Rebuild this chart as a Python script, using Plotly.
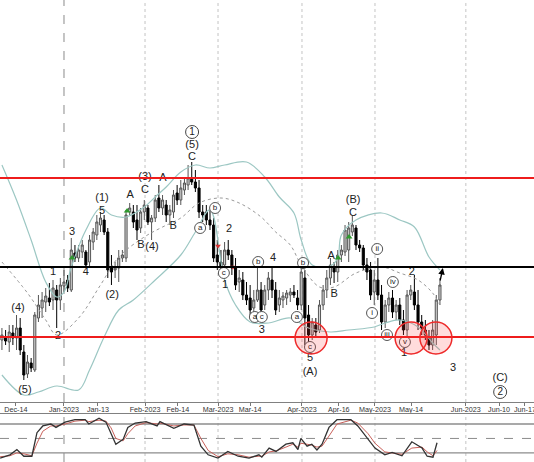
import plotly.graph_objects as go

# ---------------- data ----------------
bars = list(range(-17, 104))
opens = [62,65,60,69,64,74,50,28,39,32,84,94,100,104,102,112,102,116,122,112,149,144,150,150,140,160,167,177,182,170,134,132,134,144,144,190,190,182,174,190,194,180,184,204,194,197,187,190,209,202,212,217,224,220,214,190,190,182,177,147,140,137,152,147,134,120,122,107,104,94,102,112,97,112,122,112,97,102,104,107,110,104,97,124,87,67,77,72,97,112,124,134,130,147,150,152,170,174,157,154,137,132,110,122,107,80,97,104,90,97,82,72,107,110,97,80,72,64,57,67,102]
highs = [74,72,77,77,87,84,57,47,44,90,107,110,114,119,122,117,124,132,127,164,157,157,162,152,167,174,187,190,187,174,147,140,152,152,192,199,197,197,194,202,197,187,207,217,207,202,197,212,217,222,224,237,240,232,222,197,197,192,184,162,152,160,162,152,144,132,130,120,117,112,140,120,117,130,134,120,112,110,112,114,117,112,134,132,97,84,84,102,117,132,144,140,152,157,177,180,187,177,162,157,144,140,132,144,117,102,110,112,102,104,92,112,117,127,112,87,82,72,82,107,124]
lows = [52,57,50,57,52,47,22,24,30,30,80,84,90,96,92,74,92,110,110,110,140,140,144,134,136,152,162,170,167,124,117,124,120,140,140,187,174,162,169,182,177,162,180,190,187,180,177,184,197,197,207,212,217,210,184,180,177,172,140,132,130,134,142,127,112,110,102,97,87,90,100,90,92,102,104,87,90,94,97,100,104,92,92,57,57,62,64,69,92,104,117,119,120,140,146,140,166,152,150,132,122,102,97,102,72,74,90,84,82,77,67,62,102,92,72,67,62,52,52,57,97]
closes = [67,61,70,64,74,52,27,40,34,87,97,102,106,100,114,102,117,120,114,152,144,152,157,137,162,170,180,184,170,132,130,134,144,147,187,194,180,172,190,197,180,184,202,194,202,187,192,207,202,214,219,224,220,214,190,187,182,177,144,140,134,152,147,134,117,124,107,102,92,102,112,92,112,124,112,92,104,106,109,110,107,97,130,84,67,80,70,97,112,124,137,130,147,152,172,174,177,157,154,137,130,107,122,107,80,97,104,90,97,82,72,107,112,97,80,74,67,57,72,102,117]

levels_red = [224, 65]
level_black = [135]

tick_bars = [-13.2, 0, 9.3, 22.2, 31.2, 42.2, 51.0, 65.2, 75.3, 85.2, 95.1, 110.1, 119.2, 126.3]
tick_labels = ["Dec-14", "Jan-2023", "Jan-13", "Feb-2023", "Feb-14", "Mar-2023", "Mar-14",
               "Apr-2023", "Apr-16", "May-2023", "May-14", "Jun-2023", "Jun-10", "Jun-17"]
month_bars = [0, 22.2, 42.2, 65.2, 85.2, 110.1]

upper_bar = [-17, -13, -9, -5, -2, 0, 2, 6, 10, 13, 17, 22, 25, 28, 32, 36, 40, 44, 50, 55, 59, 63, 65, 68, 73, 75, 76, 80, 87, 92, 96, 100, 103]
upper_val = [237, 202, 162, 120, 105, 110, 135, 172, 194, 187, 185, 195, 205, 215, 230, 237, 234, 237, 240, 225, 205, 189, 162, 137, 136, 144, 167, 182, 189, 182, 175, 145, 132]
mid_bar = [-17, -10, -5, -2, 4, 10, 15, 22, 27, 32, 37, 43, 48, 54, 58, 62, 65, 70, 74, 80, 87, 92, 97, 101, 103]
mid_val = [140, 109, 82, 67, 84, 117, 145, 165, 175, 184, 199, 204, 199, 185, 170, 157, 137, 115, 115, 129, 135, 129, 122, 109, 97]
lower_bar = [-17, -11, -7, -2, 4, 7, 11, 15, 19, 25, 32, 36, 40, 44, 47, 51, 56, 62, 67, 73, 78, 85, 88, 92, 97, 101, 103]
lower_val = [27, 7, 10, 16, 12, 32, 65, 92, 102, 122, 147, 170, 192, 122, 97, 80, 79, 84, 74, 70, 72, 75, 79, 82, 75, 59, 52]

stoch_bar = [-17.5, -14.8, -12.9, -11.0, -8.8, -7.4, -5.8, -3.6, -2.2, 0.3, 3.0, 5.8, 6.8, 9.6, 11.5,
             12.9, 14.2, 16.2, 17.5, 19.5, 22.5, 25.5, 26.3, 30.1, 32.9, 35.6, 37.5, 39.5, 42.2, 44.9,
             47.7, 50.7, 53.4, 54.2, 56.2, 58.1, 60.8, 62.7, 64.1, 64.9, 66.6, 67.9, 69.3, 70.7, 72.6,
             74.8, 78.6, 80.5, 83.3, 85.2, 87.9, 89.9, 92.6, 95.3, 98.1, 99.5, 101.1, 102.2]
stoch_k = [9, 16, 27, 13, 13, 62, 76, 80, 73, 84, 89, 89, 80, 92, 84,
           62, 38, 48, 73, 82, 85, 76, 85, 71, 80, 78, 34, 16, 9, 23,
           13, 9, 16, 11, 30, 23, 38, 41, 27, 50, 34, 38, 26, 38, 73,
           89, 89, 76, 48, 30, 16, 21, 14, 43, 30, 13, 11, 41]
stoch_d = [12, 14, 20, 18, 14, 40, 65, 76, 76, 80, 86, 88, 85, 88, 86,
           72, 50, 45, 60, 76, 83, 80, 82, 76, 78, 78, 50, 25, 12, 18,
           16, 11, 13, 13, 22, 24, 32, 38, 32, 40, 38, 36, 32, 34, 55,
           80, 88, 82, 60, 40, 22, 20, 17, 30, 32, 22, 14, 25]
stoch_levels = [80, 50, 20]

wave_text = ["(4)", "(5)", "(3)", "2", "1", "3", "4", "(1)", "5", "(2)", "A", "B", "C", "(3)", "(4)",
             "A", "B", "C", "(5)", "1", "2", "4", "3", "5", "(A)", "A", "B", "(B)", "C", "1", "2", "3", "(C)"]
wave_bar = [-12.6, -10.7, -18.4, -1.6, -3.0, 2.2, 6.0, 10.4, 10.4, 13.2, 18.1, 21.1, 22.2, 22.2, 24.1,
            27.1, 29.9, 35.1, 35.1, 44.1, 45.2, 57.3, 54.2, 67.4, 67.4, 73.2, 74.0, 79.2, 79.2, 93.2, 95.3, 106.6, 119.5]
wave_val = [94, 12, 34, 66, 130, 170, 130, 204, 191, 107, 207, 157, 212, 225, 155,
            224, 176, 245, 257, 117, 173, 144, 72, 44, 30, 146, 108, 202, 189, 49, 130, 34, 24]

circ_text = ["a", "b", "c", "b", "a", "c", "a", "b", "c", "ii", "i", "iii", "iv", "v"]
circ_bar = [37.3, 41.4, 43.8, 53.2, 52.3, 54.2, 63.8, 65.5, 67.4, 85.8, 84.4, 88.5, 90.1, 93.4]
circ_val = [174, 194, 129, 140, 85, 85, 85, 139, 55, 153, 89, 67, 120, 60]
big_circ_text = ["1", "2"]
big_circ_bar = [35.1, 119.5]
big_circ_val = [270, 10]

zone_bar = [67.7, 95.1, 101.9]
zone_val = [64, 64, 64]

buy_bar = [2.2, 17.3, 75.1, 78.1]
buy_val = [144, 191, 144, 165]
sell_bar = [42.2, 46.3]
sell_val = [156, 135]

target_bar = [103.8]
target_val = [134]

FONT = "Liberation Sans, Arial, sans-serif"

fig = go.Figure()

# Bollinger bands
fig.add_trace(go.Scatter(x=upper_bar, y=upper_val, mode="lines", line=dict(color="#9cc7c3", width=1.2, shape="spline"),
                         xaxis="x", yaxis="y", hoverinfo="skip"))
fig.add_trace(go.Scatter(x=lower_bar, y=lower_val, mode="lines", line=dict(color="#9cc7c3", width=1.2, shape="spline"),
                         xaxis="x", yaxis="y", hoverinfo="skip"))
fig.add_trace(go.Scatter(x=mid_bar, y=mid_val, mode="lines", line=dict(color="#9a9a9a", width=1, dash="dot", shape="spline"),
                         xaxis="x", yaxis="y", hoverinfo="skip"))

# Candles
fig.add_trace(go.Candlestick(
    x=bars, open=opens, high=highs, low=lows, close=closes,
    increasing=dict(fillcolor="#d4d4d4", line=dict(color="#555555", width=1)),
    decreasing=dict(fillcolor="#000000", line=dict(color="#000000", width=1)),
    whiskerwidth=0, xaxis="x", yaxis="y"))

# signal markers
fig.add_trace(go.Scatter(x=buy_bar, y=buy_val, mode="markers",
                         marker=dict(symbol="triangle-up", size=6, color="#2e9a2e"), xaxis="x", yaxis="y"))
fig.add_trace(go.Scatter(x=sell_bar, y=sell_val, mode="markers",
                         marker=dict(symbol="triangle-down", size=5, color="#d83030"), xaxis="x", yaxis="y"))

# wave labels
fig.add_trace(go.Scatter(x=wave_bar, y=wave_val, mode="text", text=wave_text, textposition="middle center",
                         textfont=dict(family=FONT, size=11, color="#222222"), cliponaxis=False,
                         xaxis="x", yaxis="y"))
fig.add_trace(go.Scatter(x=circ_bar, y=circ_val, mode="markers+text", text=circ_text, textposition="middle center",
                         marker=dict(symbol="circle", size=11, color="white", line=dict(color="#555555", width=1)),
                         textfont=dict(family=FONT, size=8, color="#222222"), cliponaxis=False,
                         xaxis="x", yaxis="y"))
fig.add_trace(go.Scatter(x=big_circ_bar, y=big_circ_val, mode="markers+text", text=big_circ_text, textposition="middle center",
                         marker=dict(symbol="circle", size=13, color="white", line=dict(color="#444444", width=1)),
                         textfont=dict(family=FONT, size=10, color="#222222"), cliponaxis=False,
                         xaxis="x", yaxis="y"))

# Stochastic
fig.add_trace(go.Scatter(x=stoch_bar, y=stoch_d, mode="lines", line=dict(color="#c8605a", width=1),
                         xaxis="x2", yaxis="y2", hoverinfo="skip"))
fig.add_trace(go.Scatter(x=stoch_bar, y=stoch_k, mode="lines", line=dict(color="#333333", width=1.3),
                         xaxis="x2", yaxis="y2", hoverinfo="skip"))

shapes = []
for i, mb in enumerate(month_bars):
    col = "#8a8a8a" if i == 0 else "#c4c4c4"
    dash = "dash" if i == 0 else "dot"
    for yr in ("y domain", "y2 domain"):
        shapes.append(dict(type="line", xref="x", yref=yr, x0=mb, x1=mb, y0=0, y1=1,
                           line=dict(color=col, width=1, dash=dash), layer="below"))
for lv in levels_red:
    shapes.append(dict(type="line", xref="x domain", yref="y", x0=0, x1=1, y0=lv, y1=lv,
                       line=dict(color="#ee1c1c", width=2), layer="above"))
for lv in level_black:
    shapes.append(dict(type="line", xref="x domain", yref="y", x0=0, x1=1, y0=lv, y1=lv,
                       line=dict(color="#000000", width=2), layer="above"))
for lv in stoch_levels:
    shapes.append(dict(type="line", xref="x2 domain", yref="y2", x0=0, x1=1, y0=lv, y1=lv,
                       line=dict(color="#8c8c8c", width=1.3 if lv != 50 else 1, dash="solid" if lv != 50 else "dash"),
                       layer="below"))
for zb, zv in zip(zone_bar, zone_val):
    shapes.append(dict(type="circle", xref="x", yref="y", xsizemode="pixel", ysizemode="pixel",
                       xanchor=zb, yanchor=zv, x0=-16, x1=16, y0=-16, y1=16,
                       fillcolor="rgba(255,60,60,0.18)", line=dict(color="#ee2a2a", width=1.5), layer="above"))

annotations = [dict(x=target_bar[0], y=target_val[0], xref="x", yref="y", ax=-3, ay=14, text="",
                    showarrow=True, arrowhead=2, arrowsize=1, arrowwidth=1.3, arrowcolor="#000000")]

fig.update_layout(
    template="none",
    width=534, height=462, margin=dict(l=0, r=0, t=0, b=0, pad=0, autoexpand=False),
    paper_bgcolor="white", plot_bgcolor="white", showlegend=False,
    font=dict(family=FONT), boxgap=0.18,
    shapes=shapes, annotations=annotations,
    xaxis=dict(domain=[0, 1], range=[-17.53, 128.77], anchor="y", tickmode="array", automargin=False,
               tickvals=tick_bars, ticktext=tick_labels, ticks="outside", ticklen=3, tickcolor="#777",
               tickangle=0, ticklabelstandoff=-3, ticklabeloverflow="allow",
               tickfont=dict(family=FONT, size=7.2, color="#333333"), showline=True, linecolor="#808080",
               linewidth=1, mirror=True, showgrid=False, zeroline=False, rangeslider=dict(visible=False)),
    yaxis=dict(domain=[0.12987, 1], range=[0, 402], showticklabels=False, ticks="", showgrid=False,
               zeroline=False, showline=False, automargin=False),
    xaxis2=dict(domain=[0, 1], anchor="y2", matches="x", showticklabels=False, ticks="", showline=True,
                linecolor="#808080", mirror=True, showgrid=False, zeroline=False, automargin=False),
    yaxis2=dict(domain=[0, 0.1030], range=[1, 100], showticklabels=False, ticks="", showgrid=False,
                zeroline=False, showline=False, automargin=False),
)

fig.write_html("out.html", config={"displayModeBar": False, "staticPlot": True},
               post_script="document.body.style.margin='0';document.body.style.overflow='hidden';")
